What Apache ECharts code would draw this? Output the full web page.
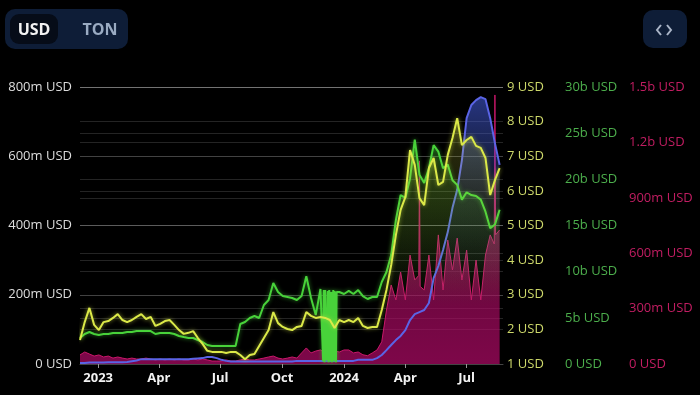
<!DOCTYPE html>
<html><head><meta charset="utf-8">
<script src="https://cdn.jsdelivr.net/npm/echarts@6/dist/echarts.min.js"></script>
<style>html,body{margin:0;padding:0;background:#000;}#c{width:700px;height:395px;}</style>
</head><body><div id="c"></div>
<script>
// weekly samples starting 2022-12-05
const startDate = '2022-12-05';
const stepDays = 7;
const axisMinDate = '2022-12-05';
const axisMaxDate = '2024-08-24';
const monthNames = ['Jan','Feb','Mar','Apr','May','Jun','Jul','Aug','Sep','Oct','Nov','Dec'];

// TON price (USD) - yellow axis
const priceUSD = [1.69,2.21,2.62,2.13,1.98,2.21,2.24,2.33,2.44,2.27,2.21,2.27,2.36,2.44,2.30,2.36,2.10,2.16,2.24,2.27,
  2.13,1.98,1.87,1.90,1.95,1.75,1.58,1.38,1.35,1.35,1.35,1.32,1.35,1.35,1.26,1.14,1.26,1.29,1.52,1.75,
  1.98,2.50,2.18,2.07,2.01,1.98,2.07,2.10,2.50,2.39,2.33,2.36,2.33,2.27,2.04,2.27,2.21,2.27,2.21,2.33,
  2.10,2.04,2.07,2.07,2.56,3.14,3.86,4.73,5.45,5.82,7.18,6.75,5.79,5.59,6.66,6.95,6.17,6.26,7.04,7.53,
  8.10,7.32,7.47,7.56,7.30,7.24,6.95,5.88,6.31,6.66];
// Market cap (billion USD) - green axis
const mcapB = [2.82,3.25,3.47,3.25,3.14,3.25,3.25,3.36,3.36,3.36,3.47,3.47,3.57,3.57,3.57,3.57,3.25,3.36,3.36,3.36,
  3.25,3.03,2.92,2.82,2.82,2.60,2.38,2.06,1.95,1.95,1.95,1.95,1.95,1.95,4.33,4.55,4.98,5.20,4.98,6.39,
  6.93,8.77,7.80,7.36,7.26,7.15,6.93,7.36,9.50,7.15,5.30,8.12,8.00,8.00,7.90,7.80,7.58,7.91,7.58,8.01,
  7.36,7.04,7.26,7.26,8.88,9.96,11.8,15.6,18.3,18.0,20.1,24.3,20.5,19.6,21.2,23.7,23.0,21.2,21.6,19.9,
  19.4,17.8,18.6,18.3,18.2,17.8,16.5,14.7,15.1,16.7];
// extra daily readings of the market-cap glitch in Dec 2023
const glitchDates = ['2023-12-01','2023-12-02','2023-12-03','2023-12-05','2023-12-06','2023-12-08','2023-12-09','2023-12-10',
  '2023-12-12','2023-12-13','2023-12-14','2023-12-16','2023-12-17','2023-12-19','2023-12-20','2023-12-21'];
const glitchMcapB = [0.3,8.0,0.2,8.1,0.4,7.9,0.2,8.0,0.3,7.8,0.2,8.0,0.3,7.9,0.2,7.8];
// TVL (million USD) - left axis
const tvlM = [3,3,4,4,4,4,5,5,5,5,6,8,10,14,14,14,14,14,14,14,
  14,14,14,14,15,16,17,20,20,17,12,9,7,7,7,7,7,7,7,7,
  7,7,7,7,7,7,9,9,9,9,9,9,9,9,9,9,9,9,9,12,
  12,12,12,17,26,40,55,69,81,98,127,144,150,156,176,248,283,329,381,451,
  503,589,710,748,762,771,765,710,638,575];
// Volume (million USD) - pink axis
const volumeM = [49,65,54,43,49,38,43,32,38,32,27,32,27,27,32,27,22,27,22,27,
  22,27,22,22,27,22,27,22,16,16,16,22,16,16,22,27,22,22,27,32,
  38,43,32,27,32,38,32,60,87,60,70,76,60,50,70,65,76,76,60,65,
  50,45,60,76,120,292,428,347,498,347,590,455,1100,401,590,347,699,401,671,509,
  682,455,617,347,563,347,590,699,1457,726];
const volExtraDates = ['2024-04-21','2024-04-23','2024-08-11','2024-08-13'];
const volExtraM = [480,420,650,700];

const DAY = 86400000;
const t0 = Date.parse(startDate);
const dates = priceUSD.map((_, i) => t0 + i * stepDays * DAY);
const pairs = vals => vals.map((v, i) => [dates[i], v]);
const merged = (vals, exD, exV) => pairs(vals).concat(exD.map((d, i) => [Date.parse(d), exV[i]])).sort((a, b) => a[0] - b[0]);

const G = echarts.graphic.LinearGradient;
const splitCol = 'rgba(255,255,255,0.14)';
const font = '"Open Sans", "Noto Sans", sans-serif';

const chart = echarts.init(document.getElementById('c'), null, {renderer: 'canvas'});
chart.setOption({
  backgroundColor: '#000',
  animation: false,
  textStyle: {fontFamily: font},
  grid: {left: 80, right: 197, top: 87, bottom: 31, outerBoundsMode: 'none', containLabel: false},
  xAxis: {
    type: 'time', min: Date.parse(axisMinDate), max: Date.parse(axisMaxDate), splitNumber: 6,
    axisLine: {show: true, lineStyle: {color: '#444'}},
    axisTick: {show: true, length: 4, lineStyle: {color: '#999'}},
    splitLine: {show: false},
    axisLabel: {
      color: '#f2f2f2', fontWeight: 'bold', fontSize: 13, margin: 8, fontFamily: font,
      formatter: v => { const d = new Date(v); return d.getMonth() === 0 ? String(d.getFullYear()) : monthNames[d.getMonth()]; }
    }
  },
  yAxis: [
    {type: 'value', position: 'left', min: 0, max: 800, interval: 200,
     axisLine: {show: false}, axisTick: {show: false},
     splitLine: {lineStyle: {color: splitCol}},
     axisLabel: {color: '#dcdcdc', fontSize: 13, margin: 8, fontFamily: font, formatter: v => v === 0 ? '0 USD' : v + 'm USD'}},
    {type: 'value', position: 'right', offset: 0, min: 1, max: 9, interval: 1,
     axisLine: {show: false}, axisTick: {show: false},
     splitLine: {show: true, lineStyle: {color: splitCol}},
     axisLabel: {color: '#cdd86a', fontSize: 13, margin: 4, fontFamily: font, formatter: v => v + ' USD'}},
    {type: 'value', position: 'right', offset: 58, min: 0, max: 30, interval: 5,
     axisLine: {show: false}, axisTick: {show: false},
     splitLine: {show: true, lineStyle: {color: splitCol}},
     axisLabel: {color: '#4cae4c', fontSize: 13, margin: 4, fontFamily: font, formatter: v => v === 0 ? '0 USD' : v + 'b USD'}},
    {type: 'value', position: 'right', offset: 122, min: 0, max: 1500, interval: 300,
     axisLine: {show: false}, axisTick: {show: false},
     splitLine: {show: true, lineStyle: {color: splitCol}},
     axisLabel: {color: '#c21d62', fontSize: 13, margin: 4, fontFamily: font,
       formatter: v => v === 0 ? '0 USD' : (v >= 1000 ? (v / 1000) + 'b USD' : v + 'm USD')}}
  ],
  series: [
    {name: 'Volume', type: 'line', yAxisIndex: 3, z: 1, symbol: 'none',
     data: merged(volumeM, volExtraDates, volExtraM),
     lineStyle: {width: 1, color: '#c8176a'},
     areaStyle: {color: new G(0, 0, 0, 1, [{offset: 0, color: 'rgba(140,15,75,0.5)'}, {offset: 0.5, color: 'rgba(165,12,95,0.85)'}, {offset: 1, color: 'rgba(180,10,105,1)'}])}},
    {name: 'TVL', type: 'line', yAxisIndex: 0, z: 2, symbol: 'none',
     data: pairs(tvlM),
     lineStyle: {width: 2, color: '#5a64e6'},
     areaStyle: {color: new G(0, 0, 0, 1, [{offset: 0, color: 'rgba(70,95,230,0.8)'}, {offset: 0.4, color: 'rgba(70,95,200,0.22)'}, {offset: 0.7, color: 'rgba(70,95,200,0)'}])}},
    {name: 'Market cap', type: 'line', yAxisIndex: 2, z: 3, symbol: 'none',
     data: merged(mcapB, glitchDates, glitchMcapB),
     lineStyle: {width: 2, color: '#48d23a', shadowColor: 'rgba(72,210,58,0.6)', shadowBlur: 4},
     areaStyle: {color: new G(0, 0, 0, 1, [{offset: 0, color: 'rgba(72,210,58,0.3)'}, {offset: 0.75, color: 'rgba(72,210,58,0)'}])}},
    {name: 'Price', type: 'line', yAxisIndex: 1, z: 4, symbol: 'none',
     data: pairs(priceUSD),
     lineStyle: {width: 2, color: '#dbe948', shadowColor: 'rgba(219,233,72,0.6)', shadowBlur: 4},
     areaStyle: {color: new G(0, 0, 0, 1, [{offset: 0, color: 'rgba(219,233,72,0.3)'}, {offset: 0.75, color: 'rgba(219,233,72,0)'}])}}
  ],
  graphic: [
    {type: 'rect', left: 5, top: 9, shape: {width: 123, height: 40, r: 10}, style: {fill: '#0e1d37'}},
    {type: 'rect', left: 10, top: 14, shape: {width: 48, height: 30, r: 9}, style: {fill: '#060c18'}},
    {type: 'text', x: 34, y: 30, style: {text: 'USD', fill: '#f2f2f2', font: 'bold 16px "Open Sans", sans-serif', align: 'center', verticalAlign: 'middle'}},
    {type: 'text', x: 100, y: 30, style: {text: 'TON', fill: '#9aabc2', font: 'bold 16px "Open Sans", sans-serif', align: 'center', verticalAlign: 'middle'}},
    {type: 'rect', left: 643, top: 10, shape: {width: 44, height: 38, r: 10}, style: {fill: '#0e1d37'}},
    {type: 'polyline', shape: {points: [[661, 25], [657, 30], [661, 35]]}, style: {stroke: '#aab5c8', lineWidth: 2, fill: null}},
    {type: 'polyline', shape: {points: [[667, 25], [671, 30], [667, 35]]}, style: {stroke: '#aab5c8', lineWidth: 2, fill: null}}
  ]
});
</script>
</body></html>
